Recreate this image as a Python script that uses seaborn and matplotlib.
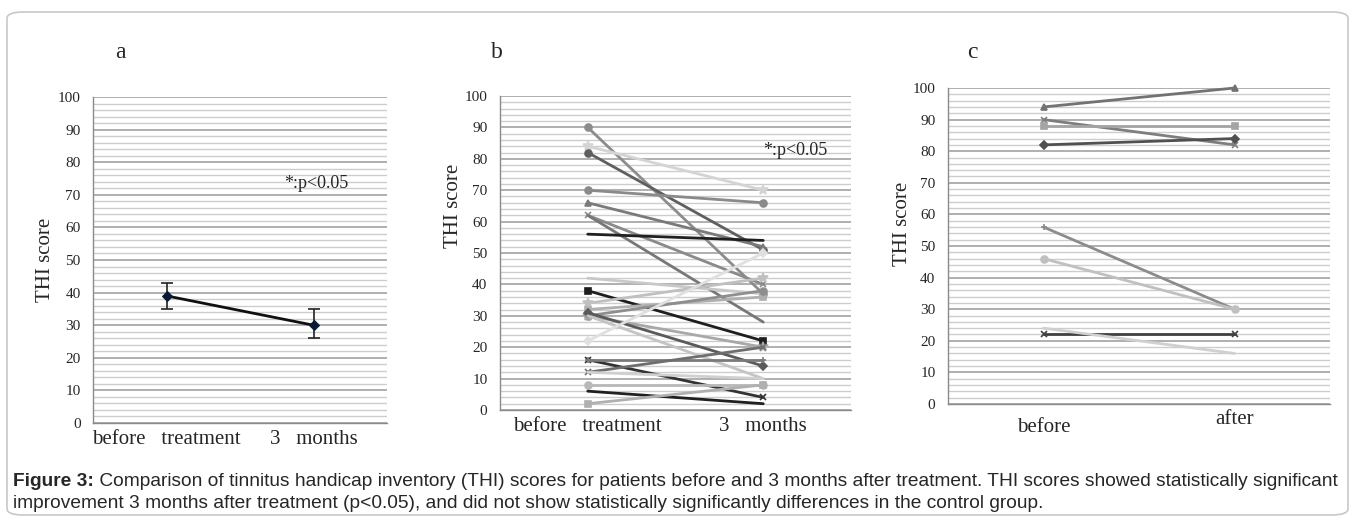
import numpy as np
import pandas as pd
import matplotlib
matplotlib.use("Agg")
import matplotlib.pyplot as plt
import seaborn as sns
from matplotlib.patches import FancyBboxPatch
from matplotlib.ticker import MultipleLocator

# ---- data -------------------------------------------------------------
# panel a: group mean with error bars
a_labels = ["before   treatment", "3   months"]
a_mean = [39, 30]
a_err_low = [4, 4]
a_err_high = [4, 5]

# panel b: individual patients, treatment group (before -> 3 months)
b_labels = ["before   treatment", "3   months"]
b_before = [90, 84, 82, 70, 66, 62, 62, 56, 42, 38, 34, 32, 30, 30, 31, 30, 22, 16, 16, 12, 12, 8, 6, 2]
b_after = [37, 70, 51, 66, 52, 40, 28, 54, 37, 22, 42, 36, 38, 20, 14, 10, 50, 4, 16, 20, 10, 8, 2, 8]
b_colors = ["#8c8c8c", "#d4d4d4", "#5f5f5f", "#8a8a8a", "#7a7a7a", "#8a8a8a", "#777777", "#202020",
            "#c8c8c8", "#1e1e1e", "#c0c0c0", "#b0b0b0", "#8e8e8e", "#a8a8a8", "#5a5a5a", "#c4c4c4",
            "#e0e0e0", "#333333", "#7a7a7a", "#6e6e6e", "#d0d0d0", "#b8b8b8", "#202020", "#b0b0b0"]
b_markers = ["o", "*", "o", "o", "^", "x", None, None, None, "s", "*", "s", "o", "*", "D", None,
             "D", "x", "+", "x", None, "o", None, "s"]

# panel c: control group (before -> after)
c_labels = ["before", "after"]
c_before = [94, 90, 88, 82, 56, 46, 22, 24]
c_after = [100, 82, 88, 84, 30, 30, 22, 16]
c_colors = ["#727272", "#7e7e7e", "#a4a4a4", "#505050", "#8c8c8c", "#c0c0c0", "#404040", "#d0d0d0"]
c_markers = ["^", "x", "s", "D", "+", "o", "x", None]

caption_bold = "Figure 3:"
caption_rest = (" Comparison of tinnitus handicap inventory (THI) scores for patients before and 3 months "
                "after treatment. THI scores showed statistically significant")
caption_line2 = ("improvement 3 months after treatment (p<0.05), and did not show statistically "
                 "significantly differences in the control group.")

# ---- style ------------------------------------------------------------
sns.set_style("white")
plt.rcParams["font.family"] = ["Liberation Serif", "DejaVu Serif"]

W, H = 1355, 523
fig = plt.figure(figsize=(W / 100, H / 100), dpi=100)


def px_box(left, top, right, bottom):
    return [left / W, 1 - bottom / H, (right - left) / W, (bottom - top) / H]


def style_axes(ax, labels):
    ax.set_xlim(-0.5, 1.5)
    ax.set_ylim(0, 100)
    ax.yaxis.set_major_locator(MultipleLocator(10))
    ax.yaxis.set_minor_locator(MultipleLocator(2))
    ax.grid(which="major", axis="y", color="#9a9a9a", lw=1.1)
    ax.grid(which="minor", axis="y", color="#cdcdcd", lw=1.0)
    ax.set_axisbelow(True)
    for s in ["top", "right"]:
        ax.spines[s].set_visible(False)
    for s in ["left", "bottom"]:
        ax.spines[s].set_color("#8a8a8a")
        ax.spines[s].set_linewidth(1.0)
    ax.set_xticks([0, 1])
    ax.set_xticklabels(labels, fontsize=15)
    ax.tick_params(axis="x", length=0, pad=5)
    ax.tick_params(axis="y", which="major", length=5, color="#8a8a8a", labelsize=11, pad=4)
    ax.tick_params(axis="y", which="minor", length=0)
    ax.set_ylabel("THI score", fontsize=15, labelpad=6)
    ax.set_xlabel("")


def paired_lines(ax, before, after, colors, markers):
    sizes = {"*": 7, "D": 4}
    for i, (b, a) in enumerate(zip(before, after)):
        df = pd.DataFrame({"x": [0, 1], "y": [b, a]})
        m = markers[i]
        sns.lineplot(data=df, x="x", y="y", ax=ax, color=colors[i], lw=2,
                     marker=m if m else None, markersize=sizes.get(m, 5),
                     markeredgecolor=colors[i], markeredgewidth=1.2)


# ---- panel a ----------------------------------------------------------
ax_a = fig.add_axes(px_box(93, 97, 387, 423))
df_a = pd.DataFrame({"x": [0, 1], "y": a_mean})
ax_a.errorbar(df_a["x"], df_a["y"], yerr=[a_err_low, a_err_high], fmt="none",
              ecolor="#222222", elinewidth=1.2, capsize=4, capthick=1.2, zorder=3)
sns.lineplot(data=df_a, x="x", y="y", ax=ax_a, color="#111111", lw=2, marker="D",
             markersize=5, markerfacecolor="#0b1a33", markeredgecolor="#0b1a33", zorder=4)
style_axes(ax_a, a_labels)
ax_a.text(1.02, 73.5, "*:p<0.05", fontsize=13, ha="center", va="center")
ax_a.yaxis.set_label_coords(-0.13, 0.5)

# ---- panel b ----------------------------------------------------------
ax_b = fig.add_axes(px_box(500, 96, 851, 410))
paired_lines(ax_b, b_before, b_after, b_colors, b_markers)
style_axes(ax_b, b_labels)
ax_b.text(1.18, 82.5, "*:p<0.05", fontsize=13, ha="center", va="center")
ax_b.yaxis.set_label_coords(-0.105, 0.65)

# ---- panel c ----------------------------------------------------------
ax_c = fig.add_axes(px_box(948, 88, 1330, 404))
paired_lines(ax_c, c_before, c_after, c_colors, c_markers)
for line in ax_c.lines:
    line.set_clip_on(False)
style_axes(ax_c, c_labels)
ax_c.set_xticklabels([])
# the two category labels sit at slightly different heights in the original
for i, (lab, ypx) in enumerate(zip(c_labels, [428, 420])):
    ax_c.text(i, 1 - ypx / H, lab, fontsize=15, ha="center", va="center",
              transform=matplotlib.transforms.blended_transform_factory(ax_c.transData, fig.transFigure))
ax_c.yaxis.set_label_coords(-0.094, 0.57)

# panel letters
for letter, xpx in [("a", 120), ("b", 497), ("c", 972)]:
    fig.text(xpx / W, 1 - 53 / H, letter, fontsize=17, ha="center", va="center")

# ---- border and caption -------------------------------------------------
border = FancyBboxPatch((7 / W, 8 / H), (W - 14) / W, (H - 20) / H,
                        boxstyle="round,pad=0,rounding_size=0.012",
                        transform=fig.transFigure, fill=False, ec="#c8c8c8", lw=1.2)
fig.patches.append(border)

cap_font = ["Liberation Sans", "DejaVu Sans"]
t_bold = fig.text(13 / W, 1 - 481 / H, caption_bold, fontsize=13.8, fontweight="bold",
                  family=cap_font, ha="left", va="center")
renderer = fig.canvas.get_renderer()
bb = t_bold.get_window_extent(renderer=renderer)
fig.text(bb.x1 / W, 1 - 481 / H, caption_rest, fontsize=13.8, family=cap_font,
         ha="left", va="center")
fig.text(13 / W, 1 - 503 / H, caption_line2, fontsize=13.8, family=cap_font,
         ha="left", va="center")

fig.savefig("out.png", dpi=100)
